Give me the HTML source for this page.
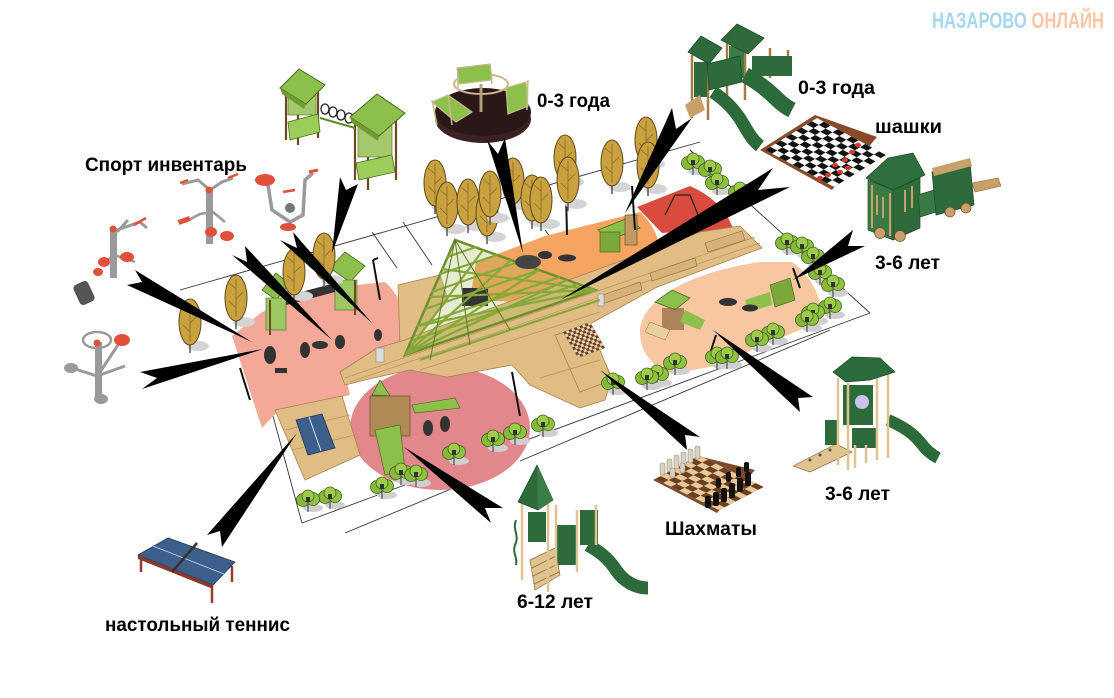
<!DOCTYPE html>
<html><head><meta charset="utf-8">
<style>
html,body{margin:0;padding:0;background:#fff;}
svg{display:block;}
.lb{font-family:"Liberation Sans","DejaVu Sans",sans-serif;font-weight:bold;font-size:19px;fill:#000;}
.wm{font-family:"Liberation Sans Narrow","Liberation Sans",sans-serif;font-weight:bold;font-size:22px;}
</style></head><body>
<svg width="1114" height="698" viewBox="0 0 1114 698" xmlns="http://www.w3.org/2000/svg">
<defs>
<g id="tr">
 <ellipse cx="8" cy="24" rx="11" ry="5" fill="#d4d4d4"/>
 <line x1="0" y1="18" x2="0" y2="31" stroke="#555" stroke-width="1.5"/>
 <ellipse cx="0" cy="0" rx="11" ry="23" fill="#c9a13f" stroke="#5e4a1c" stroke-width="1"/>
 <path d="M0,-19 L0,19 M0,-9 L-7,-15 M0,1 L7,-6 M0,10 L-7,3" stroke="#8a6a25" stroke-width="0.8" fill="none"/>
</g>
<g id="bu">
 <ellipse cx="5" cy="8" rx="10" ry="4" fill="#cfcfcf"/>
 <line x1="0" y1="3" x2="0" y2="12" stroke="#333" stroke-width="1"/>
 <circle cx="-5" cy="0" r="6.5" fill="#86b83a" stroke="#3f5f1a" stroke-width="0.8"/>
 <circle cx="5" cy="-1" r="6.5" fill="#8fc240" stroke="#3f5f1a" stroke-width="0.8"/>
 <circle cx="0" cy="-4" r="6" fill="#9ccc4a" stroke="#3f5f1a" stroke-width="0.8"/>
 <rect x="-2" y="-3" width="4" height="5" fill="#333"/>
</g>
<pattern id="chk" width="2" height="2" patternUnits="userSpaceOnUse"><rect width="1" height="1" fill="#111"/><rect x="1" y="1" width="1" height="1" fill="#111"/></pattern>
<pattern id="chb" width="2" height="2" patternUnits="userSpaceOnUse"><rect width="1" height="1" fill="#6b3f20"/><rect x="1" y="1" width="1" height="1" fill="#6b3f20"/></pattern>
</defs>

<rect width="1114" height="698" fill="#fff"/>

<!-- site lines -->
<g stroke="#333" stroke-width="0.9" fill="none">
 <line x1="180" y1="290" x2="700" y2="142"/>
 <line x1="270" y1="405" x2="302" y2="523"/>
 <line x1="302" y1="523" x2="870" y2="313"/>
 <line x1="870" y1="313" x2="690" y2="150"/>
 <line x1="345" y1="533" x2="504" y2="467"/>
 <line x1="520" y1="461" x2="830" y2="330"/>
 <line x1="372" y1="232" x2="397" y2="268"/>
 <line x1="403" y1="222" x2="432" y2="265"/>
 <line x1="690" y1="150" x2="740" y2="195"/>
 <line x1="545" y1="230" x2="560" y2="250"/>
</g>

<!-- colored areas -->
<path d="M232,336 L262,312 L330,288 L385,282 C400,295 410,320 406,345 L378,362 L345,374 L350,395 L277,412 L262,428 Z" fill="#f3a898"/>
<ellipse cx="440" cy="428" rx="90" ry="62" fill="#e2878b"/>
<path d="M476,262 L545,236 L640,212 C655,225 662,245 660,262 L640,285 L595,292 L520,302 L470,300 Z" fill="#f5a462"/>
<path d="M637,207 L690,186 Q722,200 733,228 L705,237 Q682,231 662,233 Z" fill="#d94a3f"/>
<path d="M640,332 C640,300 690,272 760,262 L792,262 C812,276 824,300 820,322 L770,342 L715,366 L672,374 C650,366 640,350 640,332 Z" fill="#f8c6a0"/>

<!-- wood -->
<g fill="#dfbd85" stroke="#a8824a" stroke-width="0.8">
 <polygon points="275,410 342,396 360,455 305,480"/>
 <polygon points="398,285 440,275 448,300 410,345 400,345"/>
 <polygon points="340,372 377,348 405,340 430,330 500,305 577,277 700,232 740,226 762,248 657,287 610,313 588,325 612,378 605,400 580,408 530,385 512,365 447,377 410,370 373,378 345,385"/>
 <polygon points="555,335 590,325 612,380 580,392"/>
</g>
<g stroke="#b8945a" stroke-width="0.7" fill="none">
 <line x1="345" y1="378" x2="755" y2="237"/>
 <line x1="350" y1="382" x2="760" y2="243"/>
 <line x1="420" y1="370" x2="600" y2="312"/>
 <line x1="540" y1="378" x2="600" y2="360"/>
 <line x1="285" y1="430" x2="350" y2="415"/>
 <line x1="292" y1="450" x2="355" y2="435"/>
</g>
<!-- benches -->
<rect x="376" y="348" width="8" height="14" fill="#ddd" stroke="#888" stroke-width="0.6"/>
<polygon points="600,296 640,282 642,290 602,304" fill="#d8b27a" stroke="#8a6a3a" stroke-width="0.6"/>
<polygon points="650,273 695,258 697,266 652,281" fill="#d8b27a" stroke="#8a6a3a" stroke-width="0.6"/>
<rect x="598" y="294" width="6" height="12" fill="#ddd" stroke="#888" stroke-width="0.6"/>
<polygon points="705,243 742,231 745,240 708,252" fill="#d8b27a" stroke="#8a6a3a" stroke-width="0.6"/>
<!-- chess block on wood -->
<polygon points="563,332 590,322 605,348 578,358" fill="#5a3a22"/>
<g transform="matrix(2.7,-1,1.5,2.6,563,332)"><rect width="10" height="10" fill="#e8d2b0"/><rect width="10" height="10" fill="url(#chb)"/></g>

<!-- pergola -->
<polygon points="455,240 405,355 595,290" fill="rgba(150,180,70,0.25)" stroke="#6f8f2a" stroke-width="2.5"/>
<rect x="462" y="288" width="26" height="18" fill="#333"/>
<g stroke="#86a83a" stroke-width="2.2">
 <line x1="447" y1="257" x2="476" y2="247"/>
 <line x1="440" y1="274" x2="497" y2="255"/>
 <line x1="432" y1="292" x2="518" y2="262"/>
 <line x1="425" y1="309" x2="539" y2="270"/>
 <line x1="417" y1="326" x2="560" y2="277"/>
 <line x1="411" y1="341" x2="578" y2="284"/>
 <line x1="405" y1="355" x2="483" y2="250"/>
 <line x1="405" y1="355" x2="511" y2="260"/>
 <line x1="405" y1="355" x2="539" y2="270"/>
 <line x1="405" y1="355" x2="567" y2="280"/>
 <line x1="595" y1="290" x2="442" y2="269"/>
 <line x1="595" y1="290" x2="430" y2="297"/>
 <line x1="595" y1="290" x2="417" y2="326"/>
 <line x1="420" y1="360" x2="600" y2="300"/>
</g>
<g stroke="#5d7a22" stroke-width="1">
 <line x1="455" y1="240" x2="430" y2="360"/>
 <line x1="455" y1="240" x2="470" y2="345"/>
 <line x1="455" y1="240" x2="510" y2="330"/>
</g>

<!-- in-plan equipment -->
<g>
 <polygon points="262,290 276,273 290,284 276,300" fill="#8dc04a" stroke="#4a6a20" stroke-width="0.8"/>
 <polygon points="330,268 345,252 365,266 350,282" fill="#8dc04a" stroke="#4a6a20" stroke-width="0.8"/>
 <rect x="266" y="298" width="20" height="32" fill="#9cc864" stroke="#4a6a20" stroke-width="0.6"/>
 <rect x="335" y="280" width="22" height="30" fill="#9cc864" stroke="#4a6a20" stroke-width="0.6"/>
 <polygon points="286,296 335,283 335,292 286,305" fill="#333"/>
 <line x1="270" y1="300" x2="270" y2="335" stroke="#6b4a20" stroke-width="2"/>
 <line x1="355" y1="280" x2="355" y2="315" stroke="#6b4a20" stroke-width="2"/>
</g>
<g fill="#333">
 <ellipse cx="270" cy="355" rx="6" ry="9"/><ellipse cx="305" cy="350" rx="5" ry="8"/><ellipse cx="320" cy="345" rx="8" ry="4"/>
 <ellipse cx="340" cy="342" rx="5" ry="7"/><ellipse cx="378" cy="335" rx="4" ry="6"/><rect x="275" y="368" width="12" height="5"/>
</g>
<g>
 <polygon points="598,230 628,218 640,228 610,240" fill="#8dc04a" stroke="#3f5f1a" stroke-width="0.7"/>
 <rect x="600" y="232" width="20" height="20" fill="#7aa83a" stroke="#3f5f1a" stroke-width="0.6"/>
 <rect x="625" y="215" width="12" height="30" fill="#c09a60" stroke="#5a4020" stroke-width="0.6"/>
 <ellipse cx="545" cy="255" rx="7" ry="4" fill="#333"/><ellipse cx="567" cy="258" rx="9" ry="3.5" fill="#333"/>
 <ellipse cx="528" cy="262" rx="13" ry="7" fill="#444"/>
 <path d="M665,215 L675,195 L690,195 L700,220" stroke="#222" stroke-width="1.3" fill="none"/>
</g>
<g>
 <polygon points="655,302 672,290 690,298 675,310" fill="#8dc04a" stroke="#3f5f1a" stroke-width="0.7"/>
 <rect x="662" y="308" width="22" height="22" fill="#8a6a3a" opacity="0.7"/>
 <polygon points="685,310 705,320 700,330 680,322" fill="#8dc04a"/>
 <polygon points="650,322 670,330 665,340 645,332" fill="#e8d0a0" stroke="#8a6a3a" stroke-width="0.5"/>
 <polygon points="770,285 790,278 795,300 775,307" fill="#7aa83a" stroke="#3f5f1a" stroke-width="0.6"/>
 <polygon points="745,300 770,292 772,305 748,312" fill="#8dc04a"/>
 <ellipse cx="728" cy="302" rx="9" ry="4" fill="#333"/><ellipse cx="750" cy="308" rx="8" ry="3.5" fill="#333"/>
</g>
<g>
 <polygon points="372,395 380,380 390,396" fill="#8dc04a" stroke="#3f5f1a" stroke-width="0.7"/>
 <rect x="370" y="396" width="40" height="40" fill="#b08a55" stroke="#5a4020" stroke-width="0.6"/>
 <polygon points="375,430 400,425 405,470 385,475" fill="#8dc04a" stroke="#3f5f1a" stroke-width="0.6"/>
 <polygon points="412,405 455,398 460,408 415,413" fill="#8dc04a" stroke="#3f5f1a" stroke-width="0.6"/>
 <ellipse cx="428" cy="428" rx="5" ry="8" fill="#333"/><ellipse cx="445" cy="424" rx="5" ry="8" fill="#333"/>
</g>
<g stroke="#111" stroke-width="2" fill="none">
 <path d="M373,260 L380,300 M373,260 L378,258"/>
 <path d="M512,372 L520,416"/>
 <path d="M566,193 L567,235 M566,193 L575,196"/>
 <path d="M632,186 L635,230"/>
 <path d="M240,368 L250,400"/>
 <path d="M793,268 L800,288"/>
 <path d="M716,335 L708,360"/>
</g>

<!-- trees -->
<use href="#tr" transform="translate(190,322)"/>
<use href="#tr" transform="translate(236,298)"/>
<use href="#tr" transform="translate(294,272)"/>
<use href="#tr" transform="translate(324,256)"/>
<use href="#tr" transform="translate(435,183)"/>
<use href="#tr" transform="translate(447,205)"/>
<use href="#tr" transform="translate(468,202)"/>
<use href="#tr" transform="translate(487,213)"/>
<use href="#tr" transform="translate(490,194)"/>
<use href="#tr" transform="translate(513,181)"/>
<use href="#tr" transform="translate(532,198)"/>
<use href="#tr" transform="translate(541,200)"/>
<use href="#tr" transform="translate(565,158)"/>
<use href="#tr" transform="translate(568,180)"/>
<use href="#tr" transform="translate(612,163)"/>
<use href="#tr" transform="translate(646,140)"/>
<use href="#tr" transform="translate(648,165)"/>

<!-- bushes -->
<use href="#bu" transform="translate(693,163)"/>
<use href="#bu" transform="translate(710,170)"/>
<use href="#bu" transform="translate(717,183)"/>
<use href="#bu" transform="translate(740,192)"/>
<use href="#bu" transform="translate(787,243)"/>
<use href="#bu" transform="translate(802,247)"/>
<use href="#bu" transform="translate(813,257)"/>
<use href="#bu" transform="translate(820,273)"/>
<use href="#bu" transform="translate(833,285)"/>
<use href="#bu" transform="translate(830,307)"/>
<use href="#bu" transform="translate(813,313)"/>
<use href="#bu" transform="translate(807,320)"/>
<use href="#bu" transform="translate(773,333)"/>
<use href="#bu" transform="translate(757,340)"/>
<use href="#bu" transform="translate(717,357)"/>
<use href="#bu" transform="translate(727,357)"/>
<use href="#bu" transform="translate(675,363)"/>
<use href="#bu" transform="translate(657,375)"/>
<use href="#bu" transform="translate(647,378)"/>
<use href="#bu" transform="translate(613,383)"/>
<use href="#bu" transform="translate(543,425)"/>
<use href="#bu" transform="translate(515,433)"/>
<use href="#bu" transform="translate(493,440)"/>
<use href="#bu" transform="translate(454,453)"/>
<use href="#bu" transform="translate(401,473)"/>
<use href="#bu" transform="translate(416,475)"/>
<use href="#bu" transform="translate(382,487)"/>
<use href="#bu" transform="translate(330,497)"/>
<use href="#bu" transform="translate(308,500)"/>

<!-- tennis table on plan -->
<polygon points="296,420 322,414 335,448 308,455" fill="#3d5f8c" stroke="#223a5a" stroke-width="0.8"/>
<line x1="309" y1="417" x2="321" y2="451" stroke="#fff" stroke-width="0.8"/>

<!-- ===== illustrations ===== -->
<!-- monkey bars top -->
<g>
 <g stroke="#6b4a20" stroke-width="2.2">
  <line x1="286" y1="88" x2="286" y2="140"/><line x1="298" y1="92" x2="298" y2="145"/>
  <line x1="318" y1="88" x2="318" y2="138"/>
  <line x1="355" y1="115" x2="355" y2="180"/><line x1="368" y1="122" x2="368" y2="190"/>
  <line x1="396" y1="115" x2="396" y2="180"/>
 </g>
 <polygon points="288,122 318,114 320,132 290,140" fill="#9ccc5a" stroke="#4a6a20" stroke-width="0.8"/>
 <rect x="288" y="95" width="28" height="20" fill="#a5c96a" stroke="#4a6a20" stroke-width="0.6"/>
 <polygon points="280,88 299,69 325,85 306,104" fill="#8dc04a" stroke="#4a6a20" stroke-width="1"/>
 <polygon points="280,88 306,104 304,109 282,94" fill="#6f9a35"/>
 <g fill="none" stroke="#222" stroke-width="1.3">
  <ellipse cx="325" cy="109" rx="4" ry="5"/><ellipse cx="333" cy="112" rx="4" ry="5"/>
  <ellipse cx="341" cy="115" rx="4" ry="5"/><ellipse cx="349" cy="118" rx="4" ry="5"/>
 </g>
 <line x1="320" y1="118" x2="355" y2="128" stroke="#5a8a2a" stroke-width="2"/>
 <rect x="358" y="125" width="34" height="32" fill="#a5c96a" stroke="#4a6a20" stroke-width="0.6"/>
 <polygon points="356,163 392,155 395,172 359,180" fill="#9ccc5a" stroke="#4a6a20" stroke-width="0.8"/>
 <polygon points="350,117 377,94 405,113 379,136" fill="#8dc04a" stroke="#4a6a20" stroke-width="1"/>
 <polygon points="350,117 379,136 378,141 352,123" fill="#6f9a35"/>
</g>

<!-- carousel -->
<g>
 <ellipse cx="483" cy="119" rx="48" ry="24" fill="#3a2222"/>
 <ellipse cx="483" cy="112" rx="48" ry="24" fill="#2a1818"/>
 <ellipse cx="481" cy="84" rx="27" ry="10" fill="none" stroke="#c9b98a" stroke-width="2"/>
 <line x1="481" y1="84" x2="481" y2="112" stroke="#b0a080" stroke-width="3"/>
 <path d="M458,68 L458,88 M490,64 L492,84" stroke="#c9b98a" stroke-width="1.5"/>
 <polygon points="457,68 490,64 492,80 459,84" fill="#8dc04a" stroke="#c9b98a" stroke-width="1.2"/>
 <polygon points="432,102 448,95 472,112 456,122" fill="#8dc04a" stroke="#c9b98a" stroke-width="1.2"/>
 <polygon points="506,88 526,82 528,106 508,114" fill="#8dc04a" stroke="#c9b98a" stroke-width="1.2"/>
 <path d="M432,100 L437,125 M528,80 L527,110 M448,95 L452,125" stroke="#c9b98a" stroke-width="1.5"/>
</g>

<!-- top right playground 0-3 -->
<g>
 <g stroke="#a57c45" stroke-width="2.5">
  <line x1="692" y1="55" x2="692" y2="118"/><line x1="708" y1="58" x2="708" y2="120"/>
  <line x1="727" y1="42" x2="727" y2="108"/><line x1="745" y1="40" x2="745" y2="100"/>
  <line x1="770" y1="48" x2="770" y2="78"/><line x1="788" y1="50" x2="788" y2="75"/>
 </g>
 <rect x="694" y="62" width="13" height="35" fill="#2f6b3a"/>
 <rect x="729" y="46" width="15" height="32" fill="#3a7a45"/>
 <polygon points="707,64 740,56 742,82 709,90" fill="#2f6b3a" stroke="#1e4a28" stroke-width="0.8"/>
 <rect x="752" y="56" width="40" height="20" fill="#2f6b3a"/>
 <polygon points="688,52 701,36 722,48 709,64" fill="#2f6b3a" stroke="#1e4a28" stroke-width="0.8"/>
 <polygon points="721,40 737,24 764,38 748,54" fill="#2f6b3a" stroke="#1e4a28" stroke-width="0.8"/>
 <path d="M713,92 C725,100 735,110 742,122 C748,132 752,140 760,146" stroke="#2d6a3a" stroke-width="13" fill="none"/>
 <path d="M745,75 C758,82 770,92 778,100 C783,105 788,108 792,110" stroke="#2d6a3a" stroke-width="16" fill="none"/>
 <polygon points="685,105 700,95 705,110 690,118" fill="#c9a06a"/>
</g>

<!-- checkerboard -->
<g>
 <polygon points="760,150 815,115 877,137 832,190" fill="#8a4a2a"/>
 <g transform="matrix(5.2,-3.2,6.9,3.7,765,150)"><rect width="10" height="10" fill="#fff"/><rect width="10" height="10" fill="url(#chk)"/></g>
 <g fill="#d93a30">
  <ellipse cx="835" cy="165" rx="3" ry="2.2"/><ellipse cx="845" cy="160" rx="3" ry="2.2"/><ellipse cx="852" cy="152" rx="3" ry="2.2"/>
  <ellipse cx="828" cy="175" rx="3" ry="2.2"/><ellipse cx="840" cy="172" rx="3" ry="2.2"/><ellipse cx="858" cy="145" rx="3" ry="2.2"/>
  <ellipse cx="848" cy="168" rx="3" ry="2.2"/><ellipse cx="820" cy="178" rx="3" ry="2.2"/>
 </g>
</g>

<!-- train 3-6 -->
<g>
 <polygon points="868,180 893,190 893,240 868,230" fill="#3a7a45" stroke="#1e4a28" stroke-width="0.7"/>
 <polygon points="893,190 920,178 920,228 893,240" fill="#2f6b3a" stroke="#1e4a28" stroke-width="0.7"/>
 <polygon points="866,178 888,158 913,153 925,175 893,190" fill="#2f6e3e" stroke="#1e4a28" stroke-width="0.7"/>
 <g stroke="#c8a06a" stroke-width="2">
  <line x1="872" y1="185" x2="872" y2="228"/><line x1="890" y1="193" x2="890" y2="236"/>
  <line x1="877" y1="195" x2="877" y2="215"/><line x1="883" y1="197" x2="883" y2="218"/>
  <line x1="905" y1="190" x2="905" y2="212"/><line x1="912" y1="186" x2="912" y2="208"/>
 </g>
 <polygon points="918,195 950,185 952,207 920,217" fill="#3a7a45" stroke="#1e4a28" stroke-width="0.7"/>
 <polygon points="932,172 970,162 974,205 936,215" fill="#2f6b3a" stroke="#1e4a28" stroke-width="0.7"/>
 <polygon points="932,168 970,158 972,166 934,176" fill="#c8a06a"/>
 <polygon points="972,183 998,178 1001,186 975,192" fill="#c8a06a" stroke="#8a6a3a" stroke-width="0.6"/>
 <g fill="#c8a06a" stroke="#6a4a2a" stroke-width="0.7">
  <circle cx="880" cy="233" r="5.5"/><circle cx="900" cy="236" r="5.5"/>
  <circle cx="950" cy="212" r="5"/><circle cx="966" cy="208" r="5"/>
 </g>
</g>

<!-- 3-6 bottom right playground -->
<g>
 <polygon points="793,466 836,444 852,452 810,472" fill="#e0c490" stroke="#8a6a3a" stroke-width="0.7"/>
 <g fill="#555"><circle cx="810" cy="460" r="1.5"/><circle cx="820" cy="455" r="1.5"/><circle cx="830" cy="450" r="1.5"/></g>
 <path d="M888,420 C900,425 912,432 920,442 C926,450 932,455 938,458" stroke="#2d6a3a" stroke-width="12" fill="none"/>
 <rect x="843" y="385" width="30" height="40" fill="#2e6b3a"/>
 <circle cx="862" cy="402" r="7" fill="#c9c3ee"/>
 <rect x="852" y="428" width="24" height="20" fill="#2e6b3a"/>
 <rect x="825" y="420" width="12" height="25" fill="#2e6b3a"/>
 <g stroke="#e0c490" stroke-width="2.5">
  <line x1="838" y1="378" x2="838" y2="465"/><line x1="848" y1="383" x2="848" y2="470"/>
  <line x1="877" y1="378" x2="877" y2="460"/><line x1="888" y1="372" x2="888" y2="458"/>
  <line x1="855" y1="445" x2="855" y2="468"/><line x1="866" y1="445" x2="866" y2="463"/>
 </g>
 <polygon points="833,372 852,357 880,358 895,372 870,380 846,382" fill="#2e6b3a" stroke="#1e4a28" stroke-width="0.7"/>
</g>

<!-- chess bottom -->
<g>
 <polygon points="653,480 698,456 755,470 717,513" fill="#7a4a2a"/>
 <g transform="matrix(5.6,-2.9,8,3.9,655,479)"><rect width="8" height="8" fill="#e8c898"/><rect width="8" height="8" fill="url(#chb)"/></g>
 <g fill="#d8d2c0" stroke="#8a8070" stroke-width="0.5">
  <rect x="660" y="463" width="5" height="12" rx="2"/><rect x="667" y="459" width="5" height="13" rx="2"/>
  <rect x="674" y="455" width="5" height="14" rx="2"/><rect x="681" y="452" width="5" height="14" rx="2"/>
  <rect x="688" y="449" width="5" height="14" rx="2"/><rect x="695" y="446" width="5" height="13" rx="2"/>
  <rect x="670" y="468" width="5" height="10" rx="2"/><rect x="680" y="463" width="5" height="10" rx="2"/>
 </g>
 <g fill="#111">
  <rect x="705" y="496" width="6" height="12" rx="2"/><rect x="713" y="492" width="6" height="14" rx="2"/>
  <rect x="721" y="488" width="6" height="14" rx="2"/><rect x="729" y="483" width="6" height="15" rx="2"/>
  <rect x="737" y="478" width="6" height="14" rx="2"/><rect x="745" y="472" width="6" height="14" rx="2"/>
  <rect x="716" y="478" width="5" height="10" rx="2"/><rect x="726" y="472" width="5" height="10" rx="2"/>
  <rect x="736" y="467" width="5" height="10" rx="2"/><rect x="744" y="462" width="5" height="10" rx="2"/>
 </g>
</g>

<!-- 6-12 playground -->
<g>
 <path d="M588,545 C600,552 608,558 616,570 C624,582 636,588 648,588" stroke="#2d6a3a" stroke-width="13" fill="none"/>
 <rect x="555" y="525" width="22" height="40" fill="#2e6b3a"/>
 <rect x="580" y="510" width="18" height="35" fill="#2e6b3a"/>
 <rect x="528" y="512" width="18" height="30" fill="#2e6b3a"/>
 <polygon points="530,560 555,548 560,575 535,590" fill="#e0c490" stroke="#8a6a3a" stroke-width="0.7"/>
 <g stroke="#8a6a3a" stroke-width="0.8"><line x1="532" y1="568" x2="556" y2="556"/><line x1="533" y1="576" x2="558" y2="564"/><line x1="534" y1="584" x2="559" y2="572"/></g>
 <g stroke="#e0c490" stroke-width="2.5">
  <line x1="522" y1="500" x2="522" y2="580"/><line x1="548" y1="500" x2="548" y2="592"/>
  <line x1="556" y1="505" x2="556" y2="570"/><line x1="577" y1="510" x2="577" y2="572"/>
  <line x1="596" y1="505" x2="596" y2="545"/><line x1="520" y1="500" x2="552" y2="500"/>
 </g>
 <path d="M516,520 C512,530 520,535 515,545 C512,552 518,558 516,565" stroke="#2d6a3a" stroke-width="2" fill="none"/>
 <polygon points="537,465 518,502 538,510 553,500" fill="#2e6b3a" stroke="#1e4a28" stroke-width="0.7"/>
 <polygon points="537,465 538,510 553,500" fill="#3a7d48"/>
</g>

<!-- tennis table -->
<g>
 <g stroke="#9a3a2a" stroke-width="2.5">
  <line x1="141" y1="558" x2="141" y2="572"/><line x1="170" y1="542" x2="170" y2="556"/>
  <line x1="212" y1="585" x2="212" y2="603"/><line x1="232" y1="566" x2="232" y2="582"/>
 </g>
 <polygon points="138,555 168,538 235,562 213,585" fill="#3d5f8c" stroke="#23395a" stroke-width="0.8"/>
 <polygon points="138,555 213,585 213,589 138,559" fill="#8a3a2a"/>
 <line x1="153" y1="546" x2="224" y2="574" stroke="#cfd8e8" stroke-width="0.8"/>
 <line x1="197" y1="543" x2="172" y2="572" stroke="#333" stroke-width="2.5"/>
</g>

<!-- sports machines -->
<g>
 <path d="M117,230 L140,222 L147,228 M117,232 L128,220" stroke="#9a9a9a" stroke-width="3" fill="none"/>
 <rect x="110" y="228" width="7" height="50" fill="#9a9a9a"/>
 <circle cx="113" cy="229" r="3.5" fill="#e0503a"/>
 <path d="M100,262 L117,256 L135,262" stroke="#9a9a9a" stroke-width="2.5" fill="none"/>
 <ellipse cx="104" cy="262" rx="6" ry="5" fill="#e0503a"/>
 <ellipse cx="127" cy="257" rx="7" ry="5" fill="#e0503a"/>
 <ellipse cx="98" cy="272" rx="5" ry="4" fill="#e0503a"/>
 <line x1="134" y1="225" x2="146" y2="218" stroke="#e0503a" stroke-width="2.5"/>
 <rect x="76" y="282" width="16" height="22" rx="4" fill="#555" transform="rotate(-25 84 293)"/>
 <path d="M182,184 L198,180 L210,190 L222,182 L233,178" stroke="#9a9a9a" stroke-width="3" fill="none"/>
 <rect x="206" y="188" width="7" height="56" fill="#9a9a9a"/>
 <circle cx="209" cy="190" r="3.5" fill="#e0503a"/>
 <path d="M185,222 L200,214 L213,212 L225,222" stroke="#9a9a9a" stroke-width="2.5" fill="none"/>
 <rect x="178" y="218" width="12" height="5" fill="#e0503a" transform="rotate(-20 184 220)"/>
 <ellipse cx="211" cy="232" rx="6" ry="5" fill="#e0503a"/>
 <ellipse cx="227" cy="236" rx="7" ry="5" fill="#e0503a"/>
 <line x1="180" y1="183" x2="188" y2="180" stroke="#e0503a" stroke-width="2.5"/>
 <line x1="228" y1="178" x2="238" y2="174" stroke="#e0503a" stroke-width="2.5"/>
 <path d="M268,185 L272,210 L290,222 L303,215 L305,180 L313,173" stroke="#9a9a9a" stroke-width="3.5" fill="none"/>
 <path d="M283,192 L295,190" stroke="#e0503a" stroke-width="2.5"/>
 <circle cx="290" cy="208" r="5" fill="#777"/>
 <ellipse cx="265" cy="180" rx="10" ry="6" fill="#e0503a"/>
 <ellipse cx="288" cy="227" rx="8" ry="4" fill="#e0503a"/>
 <line x1="309" y1="172" x2="318" y2="170" stroke="#e0503a" stroke-width="3"/>
 <ellipse cx="97" cy="340" rx="14" ry="8" fill="none" stroke="#9a9a9a" stroke-width="2.5"/>
 <rect x="95" y="342" width="7" height="54" fill="#9a9a9a"/>
 <path d="M72,368 L97,376 L125,366 M100,372 L118,345" stroke="#9a9a9a" stroke-width="3" fill="none"/>
 <ellipse cx="71" cy="368" rx="7" ry="5" fill="#9a9a9a"/>
 <ellipse cx="101" cy="399" rx="7" ry="5" fill="#9a9a9a"/>
 <circle cx="97" cy="343" r="3.5" fill="#e0503a"/>
 <ellipse cx="122" cy="340" rx="8" ry="6" fill="#e0503a"/>
</g>

<!-- arrows -->
<g fill="#000">
 <polygon points="252,342 127,285 142,282 135,270"/>
 <polygon points="263,349 140,372 157,378 142,389"/>
 <polygon points="332,340 232,255 247,262 245,246"/>
 <polygon points="372,323 280,240 297,248 293,232"/>
 <polygon points="332,253 340,177 346,190 358,184"/>
 <polygon points="523,253 487,140 498,154 505,138"/>
 <polygon points="625,213 672,108 676,129 692,118"/>
 <polygon points="560,300 773,168 758,190 790,187"/>
 <polygon points="793,280 853,230 848,246 865,246"/>
 <polygon points="713,330 813,397 798,398 800,412"/>
 <polygon points="600,370 700,437 685,435 687,450"/>
 <polygon points="404,447 503,508 485,508 491,523"/>
 <polygon points="297,433 207,535 220,531 222,547"/>
</g>

<!-- labels -->
<text class="lb" x="85" y="171" textLength="162" lengthAdjust="spacingAndGlyphs">Спорт инвентарь</text>
<text class="lb" x="537" y="107" textLength="73" lengthAdjust="spacingAndGlyphs">0-3 года</text>
<text class="lb" x="798" y="94" textLength="77" lengthAdjust="spacingAndGlyphs">0-3 года</text>
<text class="lb" x="875" y="133" textLength="67" lengthAdjust="spacingAndGlyphs">шашки</text>
<text class="lb" x="875" y="269" textLength="65" lengthAdjust="spacingAndGlyphs">3-6 лет</text>
<text class="lb" x="825" y="500" textLength="65" lengthAdjust="spacingAndGlyphs">3-6 лет</text>
<text class="lb" x="665" y="535" textLength="92" lengthAdjust="spacingAndGlyphs">Шахматы</text>
<text class="lb" x="517" y="608" textLength="76" lengthAdjust="spacingAndGlyphs">6-12 лет</text>
<text class="lb" x="105" y="631" textLength="185" lengthAdjust="spacingAndGlyphs">настольный теннис</text>
<text class="wm" x="932" y="28" textLength="172" lengthAdjust="spacingAndGlyphs"><tspan fill="#a6d6f0">НАЗАРОВО </tspan><tspan fill="#f8c6a6">ОНЛАЙН</tspan></text>
</svg>
</body></html>
